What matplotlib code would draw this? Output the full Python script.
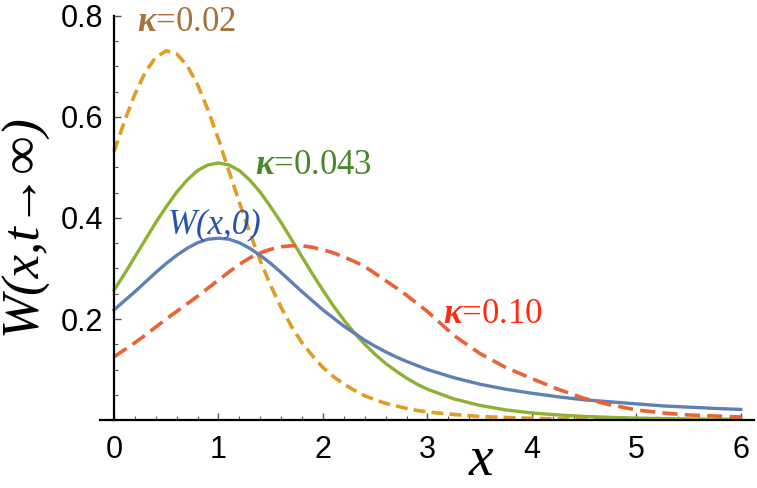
"""Stationary distributions W(x, t->inf) for several kappa"""
import numpy as np
import matplotlib.pyplot as plt
from matplotlib.ticker import MultipleLocator, FixedLocator

plt.rcParams['mathtext.fontset'] = 'custom'
plt.rcParams['mathtext.rm'] = 'Liberation Serif'
plt.rcParams['mathtext.it'] = 'Liberation Serif:italic'
plt.rcParams['mathtext.bf'] = 'Liberation Serif:bold:italic'

x = [0.0, 0.1, 0.2, 0.3, 0.4, 0.5, 0.6, 0.7, 0.8, 0.9,
     1.0, 1.1, 1.2, 1.3, 1.4, 1.5, 1.6, 1.7, 1.8, 1.9,
     2.0, 2.1, 2.2, 2.3, 2.4, 2.5, 2.6, 2.7, 2.8, 2.9,
     3.0, 3.25, 3.5, 3.75, 4.0, 4.25, 4.5, 4.75, 5.0, 5.25, 5.5, 5.75, 6.0]

# W(x,0) - initial distribution
w_init = [0.218, 0.236, 0.254, 0.273, 0.292, 0.310, 0.326, 0.340, 0.351, 0.358,
          0.360, 0.358, 0.351, 0.340, 0.326, 0.310, 0.292, 0.273, 0.254, 0.236,
          0.218, 0.202, 0.186, 0.172, 0.158, 0.146, 0.135, 0.125, 0.116, 0.108,
          0.100, 0.084, 0.071, 0.061, 0.053, 0.046, 0.040, 0.036, 0.032, 0.028,
          0.0255, 0.023, 0.021]

# kappa = 0.02
w_k002 = [0.531, 0.591, 0.645, 0.689, 0.718, 0.731, 0.725, 0.702, 0.664, 0.614,
          0.556, 0.493, 0.431, 0.371, 0.316, 0.266, 0.223, 0.185, 0.153, 0.127,
          0.104, 0.086, 0.071, 0.059, 0.048, 0.040, 0.033, 0.028, 0.023, 0.019,
          0.016, 0.011, 0.007, 0.005, 0.0033, 0.0023, 0.0016, 0.0012, 0.0009, 0.0007,
          0.0005, 0.0004, 0.0003]

# kappa = 0.043
w_k0043 = [0.257, 0.289, 0.323, 0.357, 0.391, 0.422, 0.451, 0.475, 0.494, 0.505,
           0.509, 0.505, 0.494, 0.475, 0.451, 0.422, 0.391, 0.357, 0.323, 0.289,
           0.257, 0.226, 0.198, 0.173, 0.150, 0.130, 0.112, 0.097, 0.083, 0.071,
           0.061, 0.042, 0.029, 0.020, 0.014, 0.010, 0.0072, 0.0052, 0.0038, 0.0029,
           0.0021, 0.0016, 0.0013]

# kappa = 0.10
w_k010 = [0.125, 0.139, 0.153, 0.168, 0.184, 0.200, 0.215, 0.230, 0.245, 0.261,
          0.277, 0.293, 0.308, 0.321, 0.331, 0.338, 0.343, 0.345, 0.345, 0.342,
          0.337, 0.331, 0.323, 0.314, 0.304, 0.290, 0.276, 0.262, 0.247, 0.231,
          0.215, 0.168, 0.132, 0.104, 0.082, 0.061, 0.043, 0.030, 0.020, 0.014,
          0.010, 0.008, 0.006]

fig = plt.figure(figsize=(7.57, 4.88), dpi=100)
ax = fig.add_axes([0.1326, 0.1393, 0.864, 0.828])

ax.plot(x, w_k002, color='#e19c24', lw=2.6, ls=(0, (3.3, 1.7)))
ax.plot(x, w_k0043, color='#8fb032', lw=2.4)
ax.plot(x, w_init, color='#5e81b5', lw=2.4)
ax.plot(x, w_k010, color='#eb6235', lw=2.6, ls=(0, (4.2, 2.0)))

ax.set_xlim(-0.13, 6.13)
ax.set_ylim(0, 0.8)

# Mathematica style axes crossing at the origin
ax.spines['top'].set_visible(False)
ax.spines['right'].set_visible(False)
ax.spines['left'].set_position(('data', 0))
ax.spines['left'].set_linewidth(1.6)
ax.spines['bottom'].set_linewidth(1.6)

ax.xaxis.set_major_locator(FixedLocator([0, 1, 2, 3, 4, 5, 6]))
ax.xaxis.set_minor_locator(MultipleLocator(0.2))
ax.yaxis.set_major_locator(FixedLocator([0.2, 0.4, 0.6, 0.8]))
ax.yaxis.set_minor_locator(MultipleLocator(0.05))
ax.tick_params(which='both', direction='in', color='#555555')
ax.tick_params(which='major', length=5, width=1)
ax.tick_params(which='minor', length=3, width=0.8)
ax.tick_params(axis='x', which='major', pad=11)
ax.tick_params(axis='y', which='major', pad=8)
ax.set_xticklabels(['0', '1', '2', '3', '4', '5', '6'])
ax.set_yticklabels(['0.2', '0.4', '0.6', '0.8'])
for lab in ax.get_xticklabels() + ax.get_yticklabels():
    lab.set_fontfamily('Liberation Sans')
    lab.set_fontsize(22)

# curve labels
lab_font = dict(family='Liberation Serif', fontsize=25, va='baseline', ha='left')
ax.text(0.22, 0.770, r'$\mathbf{\kappa}$=0.02', color='#a8703a', **lab_font)
ax.text(1.35, 0.487, r'$\mathbf{\kappa}$=0.043', color='#4a862a', **lab_font)
ax.text(3.15, 0.192, r'$\mathbf{\kappa}$=0.10', color='#ff2a10', **lab_font)
ax.text(0.51, 0.370, 'W(x,0)', color='#2452b0', style='italic', **lab_font)

# axis titles
fig.text(0.031, 0.539, 'W(x,t\u2192\u221e)', rotation=90, fontsize=38,
         family=['Liberation Serif', 'DejaVu Serif'], style='italic',
         ha='center', va='center')
fig.text(0.636, 0.003, 'x', fontsize=40, family='Liberation Serif',
         style='italic', ha='center', va='bottom')

fig.savefig('out.png', dpi=100)
